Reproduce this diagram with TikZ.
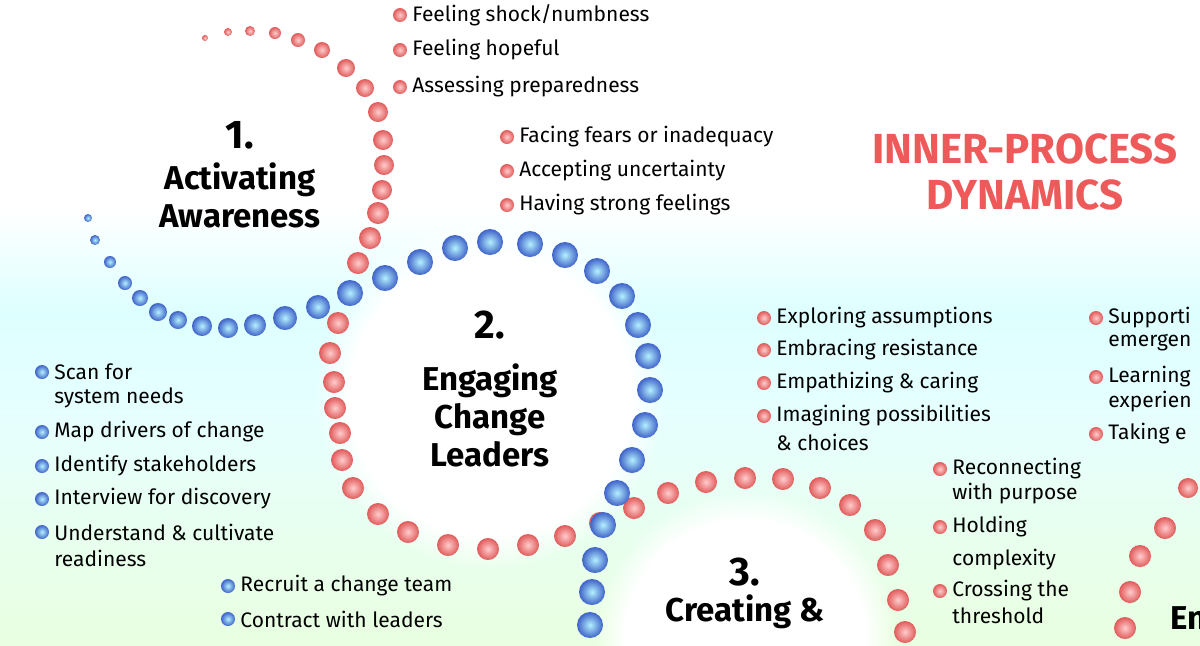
\documentclass[tikz,border=0pt]{standalone}
\usepackage{fontspec}
\setmainfont{Fira Sans}
\usetikzlibrary{calc,fadings}
\definecolor{salmon}{HTML}{EE5A5A}
\definecolor{beadred}{HTML}{E05A5A}
\definecolor{beadblue}{HTML}{3F62C8}
\tikzset{
 rb/.style={inner color=red!20!white,outer color=beadred},
 bb/.style={inner color=blue!20!cyan!30!white,outer color=beadblue},
 item/.style={anchor=west,font=\fontsize{10.5}{12.5}\selectfont,align=left,inner sep=0pt},
 head/.style={font=\bfseries\fontsize{16.5}{19}\selectfont,align=center,inner sep=0pt},
 rdot/.style={inner color=red!20!white,outer color=beadred},
 bdot/.style={inner color=blue!20!cyan!30!white,outer color=beadblue}
}
\newcommand\ritem[3]{\shade[rdot] (#1,#2) circle (7); \node[item] at (#1+12,#2) {#3};}
\newcommand\bitem[3]{\shade[bdot] (#1,#2) circle (7); \node[item] at (#1+12,#2) {#3};}
\begin{document}
\begin{tikzpicture}[x=0.5pt,y=-0.5pt]
\useasboundingbox (0,0) rectangle (1200,645);
\fill[white] (0,0) rectangle (1200,645);
\shade[top color=white,bottom color=cyan!13] (0,210) rectangle (1200,310);
\shade[top color=cyan!13,bottom color=cyan!10] (0,310) rectangle (1200,410);
\shade[top color=cyan!10,bottom color=yellow!30!green!12] (0,410) rectangle (1200,645);
% halos
\fill[white,path fading=circle with fuzzy edge 20 percent] (490,395) circle (175);
\fill[white,path fading=circle with fuzzy edge 20 percent] (745,640) circle (150);
% red chain 1
\foreach \x/\y/\r in {205/38/3,228/32/4,250/31/5,275/33/6,298/40/7,322/50/8,346/68/9,365/88/9,378/112/10,383/140/10,384/165/10,382/190/10,378/213/11,370/238/11,358/263/11,
 338/323/11,330/353/11,334/382/11,335/408/11,340/433/11,342/460/11,353/488/11,378/514/11,408/532/11,448/545/11,488/549/11,528/545/11,565/536/11,600/523/11,634/508/11,668/493/11,706/482/11,745/478/11,783/479/11,820/488/11,850/505/11,875/530/11,888/565/11,898/600/11,905/632/11}
 \shade[rb] (\x,\y) circle (\r);
% blue chain 1
\foreach \x/\y/\r in {88/218/4,95/240/5,110/262/6,125/283/7,140/298/8,158/312/9,178/320/9,202/326/10,228/328/10,255/325/11,285/318/12,318/307/12,350/293/13,385/278/13,420/262/13,455/248/13,490/242/13,530/244/13,565/255/13,597/271/13,622/296/13,638/325/13,648/356/13,650/390/13,645/425/13,632/460/13,617/493/13,603/525/13,595/560/13,592/592/13,590/625/13}
 \shade[bb] (\x,\y) circle (\r);
% red chain right
\foreach \x/\y/\r in {1188/488/10,1165/528/11,1140/556/11,1130/592/11,1125/628/11}
 \shade[rb] (\x,\y) circle (\r);
% headings
\node[head] at (240,135) {\fontsize{20}{22}\selectfont 1.};
\node[head] at (240,195) {Activating\\Awareness};
\node[head] at (490,325) {\fontsize{20}{22}\selectfont 2.};
\node[head] at (490,415) {Engaging\\Change\\Leaders};
\node[head] at (745,572) {\fontsize{20}{22}\selectfont 3.};
\node[head] at (745,612) {Creating \&};
\node[head,anchor=west] at (1170,618) {En};
\node[font=\bfseries\fontsize{21}{23}\selectfont,text=salmon,align=center,inner sep=0pt] at (1025,172) {INNER-PROCESS\\DYNAMICS};
% red items
\ritem{400}{15}{Feeling shock/numbness}
\ritem{400}{50}{Feeling hopeful}
\ritem{400}{87}{Assessing preparedness}
\ritem{507}{137}{Facing fears or inadequacy}
\ritem{507}{171}{Accepting uncertainty}
\ritem{507}{205}{Having strong feelings}
\ritem{764}{318}{Exploring assumptions}
\ritem{764}{350}{Embracing resistance}
\ritem{764}{383}{Empathizing \& caring}
\ritem{764}{416}{Imagining possibilities}
\node[item] at (776,442) {\& choices};
\ritem{940}{469}{Reconnecting}
\node[item] at (952,494) {with purpose};
\ritem{940}{527}{Holding}
\node[item] at (952,560) {complexity};
\ritem{940}{591}{Crossing the}
\node[item] at (952,616) {threshold};
\ritem{1096}{318}{Supporti}
\node[item] at (1108,343) {emergen};
\ritem{1096}{377}{Learning}
\node[item] at (1108,402) {experien};
\ritem{1096}{434}{Taking e};
% blue items
\bitem{42}{372}{Scan for}
\node[item] at (54,398) {system needs};
\bitem{42}{432}{Map drivers of change}
\bitem{42}{466}{Identify stakeholders}
\bitem{42}{499}{Interview for discovery}
\bitem{42}{532}{Understand \& cultivate}
\node[item] at (54,558) {readiness};
\bitem{228}{586}{Recruit a change team}
\bitem{228}{619}{Contract with leaders}
\end{tikzpicture}
\end{document}
